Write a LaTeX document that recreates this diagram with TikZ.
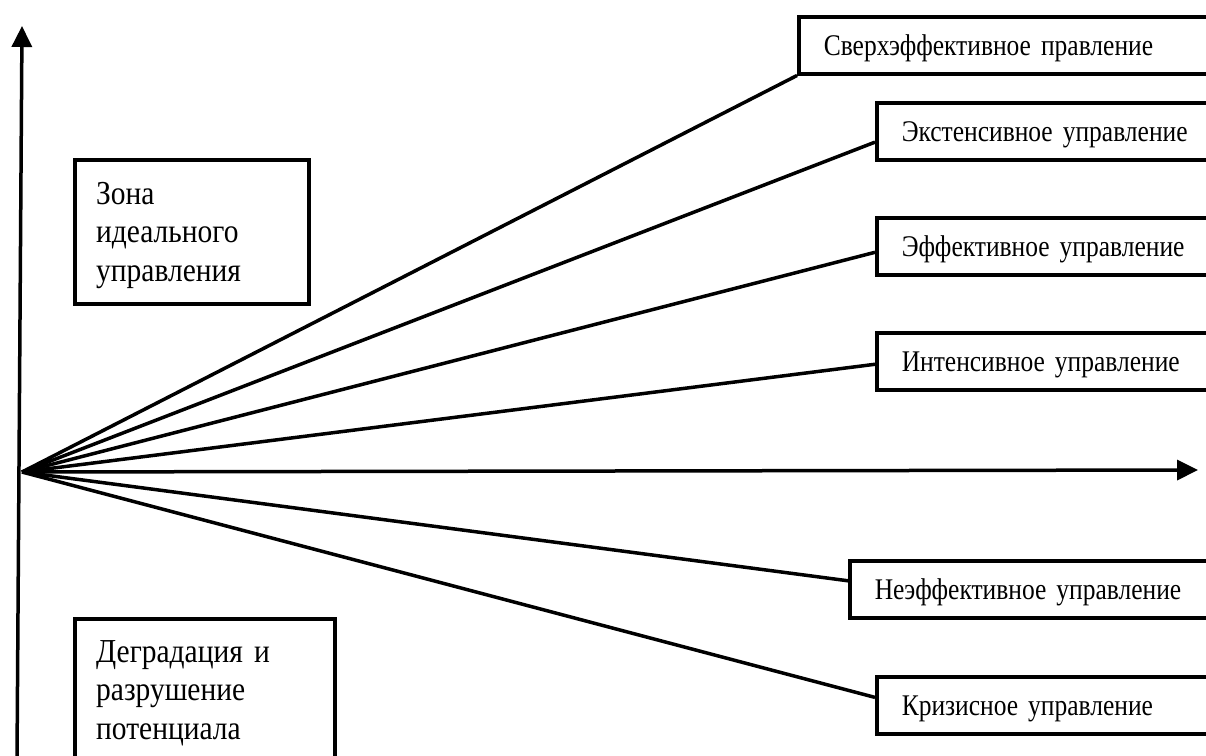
\documentclass[tikz,border=0pt]{standalone}
\usepackage{fontspec}
\setmainfont[FakeStretch=0.88]{Liberation Serif}
\newfontfamily\rfam[FakeStretch=0.85]{Liberation Serif}
\usetikzlibrary{calc,arrows.meta}
\newcommand\myrfont{\rfam\fontsize{30}{38}\selectfont\spaceskip=3pt\relax}
\newcommand\mylfont{\fontsize{33.5}{38.5}\selectfont\spaceskip=5pt\relax}
\begin{document}
\begin{tikzpicture}[x=1pt,y=-1pt,
  lw/.style={line width=3.5pt},
  rbox/.style={draw,lw,anchor=north west,minimum height=57pt,minimum width=430pt,
    text width=380pt,align=left,inner xsep=22pt,inner ysep=0pt,
    text height=28pt,text depth=8pt,
    font=\myrfont},
  lbox/.style={draw,lw,anchor=north west,align=left,inner sep=0pt},
  ltext/.style={anchor=north west,align=left,inner sep=0pt,
    font=\mylfont},
  ray/.style={lw},
  axis/.style={lw,-{Triangle[length=21pt,width=20pt]}}]
\useasboundingbox (0,0) rectangle (1206,755);
\clip (0,0) rectangle (1206,755);
\fill[white] (0,0) rectangle (1206,755);
% origin and axis ends
\coordinate (O) at (22,472);
\coordinate (ybot) at (17,760);
\coordinate (ytop) at (22,26);
\coordinate (xend) at (1198,470);
% right boxes
\node[rbox] (b1) at (797,15) {Сверхэффективное правление};
\node[rbox] (b2) at (875,101) {Экстенсивное управление};
\node[rbox] (b3) at (875,216) {Эффективное управление};
\node[rbox] (b4) at (875,331) {Интенсивное управление};
\node[rbox] (b5) at (848,559) {Неэффективное управление};
\node[rbox] (b6) at (875,675) {Кризисное управление};
% left boxes
\node[lbox,minimum width=234pt,minimum height=144pt] (z) at (73,158) {};
\node[ltext,text width=200pt] (zt) at (96,182) {Зона\\идеального\\управления};
\node[lbox,minimum width=260pt,minimum height=160pt] (d) at (73,617) {};
\node[ltext,text width=235pt] (dt) at (96,640) {Деградация и\\разрушение\\потенциала};
% axes
\draw[axis] (ybot) -- (ytop);
\draw[axis] (O) -- (xend);
% rays
\draw[ray] (O) -- (b1.south west);
\draw[ray] (O) -- ($(b2.north west)!0.68!(b2.south west)$);
\draw[ray] (O) -- ($(b3.north west)!0.6!(b3.south west)$);
\draw[ray] (O) -- ($(b4.north west)!0.55!(b4.south west)$);
\draw[ray] (O) -- ($(b5.north west)!0.36!(b5.south west)$);
\draw[ray] (O) -- ($(b6.north west)!0.37!(b6.south west)$);
\end{tikzpicture}
\end{document}
